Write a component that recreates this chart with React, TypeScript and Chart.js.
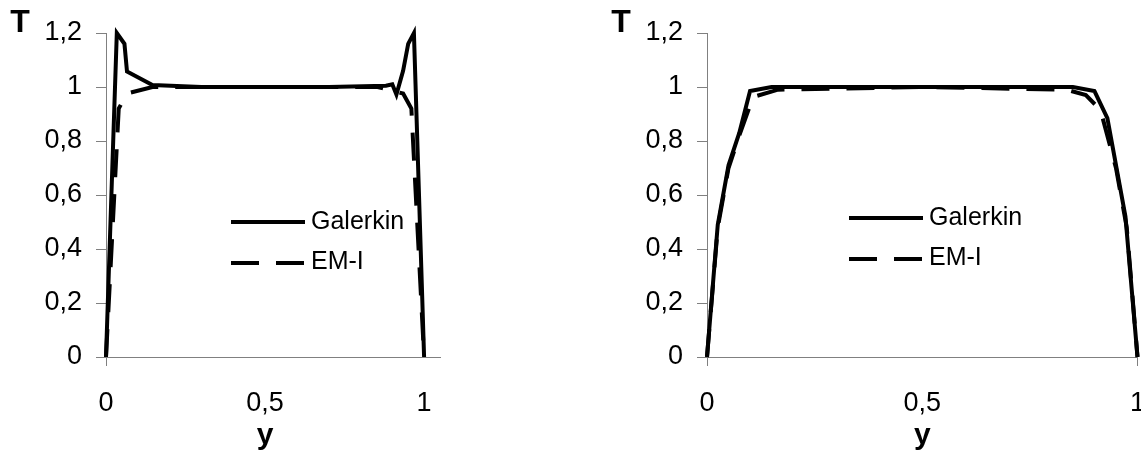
import React, { useEffect, useRef } from "react";
import { Chart, registerables } from "chart.js";

Chart.register(...registerables);

// ---- Data ----
const xTickValues = [0, 0.5, 1];
const yTickLabels = ["0", "0,2", "0,4", "0,6", "0,8", "1", "1,2"];
const seriesNames = ["Galerkin", "EM-I"];

// Left panel
const leftGalerkinX = [0, 0.034, 0.058, 0.066, 0.146, 0.3, 0.5, 0.7, 0.88, 0.9, 0.913, 0.934, 0.95, 0.968, 1];
const leftGalerkinT = [0, 1.2, 1.16, 1.057, 1.007, 1.0, 1.0, 1.0, 1.005, 1.01, 0.972, 1.06, 1.16, 1.2, 0];
const leftEmX = [0, 0.04, 0.066, 0.146, 0.3, 0.5, 0.7, 0.854, 0.934, 0.96, 1];
const leftEmT = [0, 0.92, 0.976, 1.0, 1.0, 1.0, 1.0, 1.0, 0.976, 0.92, 0];

// Right panel
const rightGalerkinX = [0, 0.025, 0.05, 0.075, 0.1, 0.15, 0.5, 0.85, 0.9, 0.93, 0.972, 1];
const rightGalerkinT = [0, 0.49, 0.71, 0.83, 0.985, 1.0, 1.0, 1.0, 0.985, 0.885, 0.52, 0];
const rightEmX = [0, 0.025, 0.05, 0.075, 0.107, 0.165, 0.5, 0.835, 0.88, 0.914, 0.95, 0.975, 1];
const rightEmT = [0, 0.48, 0.7, 0.82, 0.963, 0.99, 1.0, 0.99, 0.97, 0.915, 0.7, 0.48, 0];

const FONT = 'Arial, "Liberation Sans", sans-serif';
const GRAY = "#808080";

function zip(xs: number[], ys: number[]) {
  return xs.map((x, i) => ({ x, y: ys[i] }));
}

function fmtY(v: number) {
  const idx = Math.round(v / 0.2);
  return yTickLabels[idx] ?? "";
}

type PanelCfg = {
  galX: number[];
  galT: number[];
  emX: number[];
  emT: number[];
  xMax: number;
  tickMarks: number[];
  yAxisWidth: number;
  padRight: number;
  legendX: number;
  legendY: number;
};

function makeConfig(p: PanelCfg): any {
  const annotate = {
    id: "annot",
    afterDraw(chart: any) {
      const ctx = chart.ctx;
      const a = chart.chartArea;
      const xs = chart.scales.x;
      ctx.save();
      ctx.fillStyle = "#000";
      ctx.textBaseline = "middle";
      // Axis titles
      ctx.font = `bold 32px ${FONT}`;
      ctx.textAlign = "center";
      ctx.fillText("T", a.left - 86, 23);
      ctx.font = `bold 30px ${FONT}`;
      const cx = (xs.getPixelForValue(0) + xs.getPixelForValue(1)) / 2;
      ctx.fillText("y", cx, 436);
      // Legend
      const lx = a.left + p.legendX;
      const ly = p.legendY;
      const len = 74;
      ctx.strokeStyle = "#000";
      ctx.lineWidth = 4;
      ctx.beginPath();
      ctx.setLineDash([]);
      ctx.moveTo(lx, ly);
      ctx.lineTo(lx + len, ly);
      ctx.stroke();
      ctx.beginPath();
      ctx.setLineDash([28, 17]);
      ctx.moveTo(lx, ly + 41);
      ctx.lineTo(lx + len, ly + 41);
      ctx.stroke();
      ctx.setLineDash([]);
      ctx.font = `25px ${FONT}`;
      ctx.textAlign = "left";
      ctx.fillText(seriesNames[0], lx + len + 6, ly);
      ctx.fillText(seriesNames[1], lx + len + 6, ly + 40);
      ctx.restore();
    },
  };

  return {
    type: "line",
    data: {
      datasets: [
        {
          label: seriesNames[1],
          data: zip(p.emX, p.emT),
          borderColor: "#000",
          borderWidth: 4,
          borderDash: [28, 17],
          pointRadius: 0,
          tension: 0,
          fill: false,
          clip: false,
        },
        {
          label: seriesNames[0],
          data: zip(p.galX, p.galT),
          borderColor: "#000",
          borderWidth: 4,
          pointRadius: 0,
          tension: 0,
          fill: false,
          clip: false,
        },
      ],
    },
    options: {
      animation: false,
      responsive: false,
      events: [],
      layout: { padding: { left: 0, top: 33, right: p.padRight, bottom: 0 } },
      plugins: { legend: { display: false }, tooltip: { enabled: false } },
      scales: {
        x: {
          type: "linear",
          min: 0,
          max: p.xMax,
          afterBuildTicks: (s: any) => {
            s.ticks = xTickValues.map((v) => ({ value: v }));
          },
          afterFit: (s: any) => {
            s.height = 93;
            s.paddingLeft = 0;
            s.paddingRight = 0;
          },
          grid: {
            drawOnChartArea: false,
            drawTicks: true,
            tickLength: 9,
            color: (c: any) =>
              c.tick && p.tickMarks.includes(c.tick.value) ? GRAY : "rgba(0,0,0,0)",
          },
          border: { display: true, color: GRAY, width: 1 },
          ticks: {
            color: "#000",
            padding: 21,
            maxRotation: 0,
            font: { family: FONT, size: 27 },
            callback: (v: number) => String(v).replace(".", ","),
          },
        },
        y: {
          type: "linear",
          min: 0,
          max: 1.2,
          afterFit: (s: any) => {
            s.width = p.yAxisWidth;
            s.paddingTop = 0;
            s.paddingBottom = 0;
          },
          grid: {
            drawOnChartArea: false,
            drawTicks: true,
            tickLength: 10,
            color: GRAY,
          },
          border: { display: true, color: GRAY, width: 1 },
          ticks: {
            stepSize: 0.2,
            color: "#000",
            padding: 14,
            font: { family: FONT, size: 27 },
            callback: (v: number) => fmtY(v),
          },
        },
      },
    },
    plugins: [annotate],
  };
}

function Panel({ cfg, left, width }: { cfg: PanelCfg; left: number; width: number }) {
  const ref = useRef<HTMLCanvasElement>(null);
  useEffect(() => {
    if (!ref.current) return;
    const chart = new Chart(ref.current, makeConfig(cfg));
    return () => chart.destroy();
  }, []);
  return (
    <canvas
      ref={ref}
      width={width}
      height={450}
      style={{ position: "absolute", left, top: 0, width, height: 450 }}
    />
  );
}

export default function App() {
  const leftCfg: PanelCfg = {
    galX: leftGalerkinX,
    galT: leftGalerkinT,
    emX: leftEmX,
    emT: leftEmT,
    xMax: 1.05,
    tickMarks: [0],
    yAxisWidth: 106,
    padRight: 570 - 440,
    legendX: 125,
    legendY: 222,
  };
  const rightCfg: PanelCfg = {
    galX: rightGalerkinX,
    galT: rightGalerkinT,
    emX: rightEmX,
    emT: rightEmT,
    xMax: 1,
    tickMarks: [0, 1],
    yAxisWidth: 137,
    padRight: 580 - 1137.5 + 570,
    legendX: 142,
    legendY: 218,
  };
  return (
    <div
      style={{
        position: "absolute",
        left: 0,
        top: 0,
        width: 1141,
        height: 450,
        overflow: "hidden",
        background: "#fff",
      }}
    >
      <Panel cfg={leftCfg} left={0} width={570} />
      <Panel cfg={rightCfg} left={570} width={580} />
    </div>
  );
}
